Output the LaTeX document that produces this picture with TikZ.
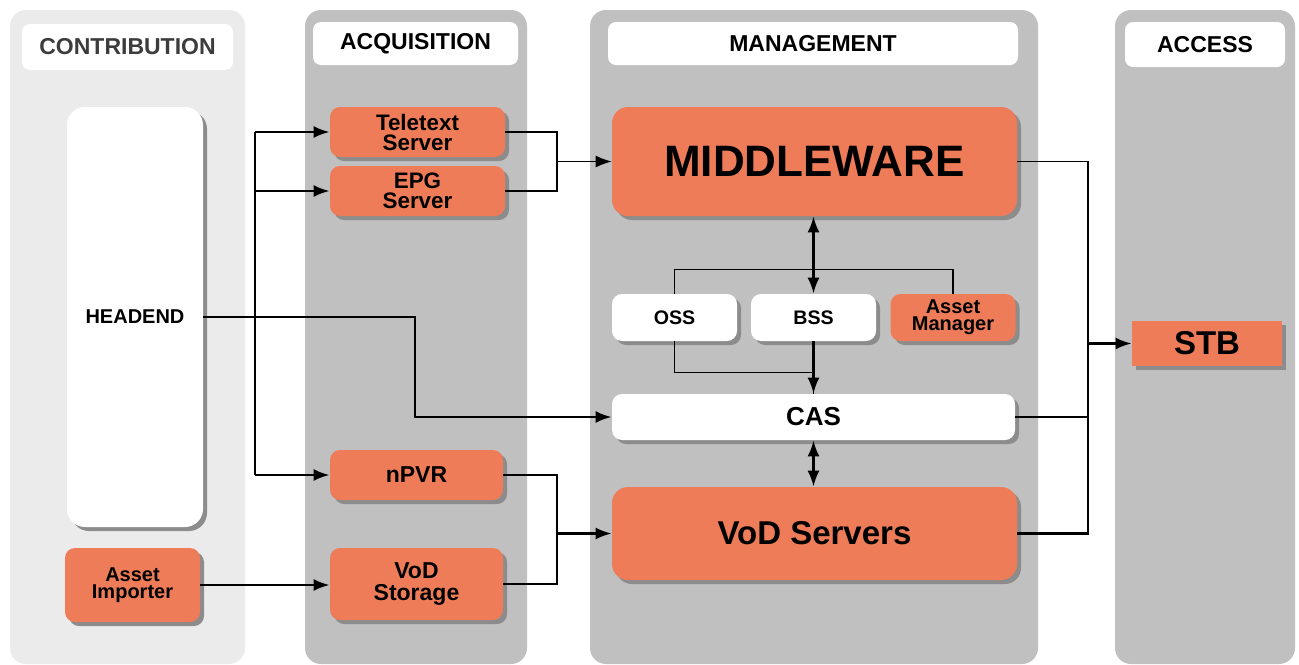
\documentclass[tikz,border=0pt]{standalone}
\usepackage{fontspec}
\setmainfont{Liberation Sans}
\usetikzlibrary{arrows.meta}
\usetikzlibrary{shadows}
\definecolor{iptvorange}{RGB}{239,124,89}
\definecolor{lanelight}{RGB}{235,235,235}
\definecolor{lanegray}{RGB}{192,192,192}
\definecolor{shadegray}{RGB}{140,140,140}
\definecolor{headtext}{RGB}{60,60,60}
\newcommand{\fsz}[2]{\fontsize{#1}{#2}\selectfont}
\newcommand{\lane}[3]{ \fill[#3, rounded corners=8pt] ( #1 , 10 ) rectangle ( #2 , 664 );}
\tikzset{
  unit/.style={rounded corners=5pt, inner sep=0pt, align=center, font=\bfseries,
    drop shadow={shadow xshift=2pt, shadow yshift=-2pt, fill=shadegray, opacity=1}},
  orangebox/.style={unit, fill=iptvorange},
  whitebox/.style={unit, fill=white},
  lanehead/.style={fill=white, rounded corners=4pt, inner sep=0pt, font=\bfseries\fsz{11.5}{13}},
  link/.style={draw=black, line width=1.2pt},
  thinlink/.style={draw=black, line width=0.6pt},
  arrowto/.style={-{Latex[length=8pt,width=6pt]}},
  biarrow/.style={{Latex[length=8pt,width=6pt]}-{Latex[length=8pt,width=6pt]}}
}

\begin{document}
\begin{tikzpicture}[x=0.5pt, y=-0.5pt]
\useasboundingbox (0,0) rectangle (1299,664);
%
\lane{10}{245}{lanelight}
\lane{305}{527}{lanegray}
\lane{590}{1038}{lanegray}
\lane{1115}{1295}{lanegray}

\node[lanehead, minimum width=105.5pt, minimum height=23pt, text=headtext] (contrib) at (127.5,47) {CONTRIBUTION};
\node[lanehead, minimum width=102.5pt, minimum height=21.5pt] (acquis) at (415.5,43.5) {ACQUISITION};
\node[lanehead, minimum width=205pt, minimum height=21.5pt] (manage) at (813,43.5) {MANAGEMENT};
\node[lanehead, minimum width=80pt, minimum height=22.5pt] (access) at (1205,44.5) {ACCESS};
%
\node[whitebox, rounded corners=9pt, minimum width=68pt, minimum height=210pt, font=\bfseries\fsz{10}{12}] (headend) at (135,317) {HEADEND};
\node[orangebox, minimum width=67.5pt, minimum height=37pt, font=\bfseries\fsz{10}{8.5}] (importer) at (132.5,585) {Asset\\Importer};

\node[orangebox, minimum width=87.5pt, minimum height=25pt, font=\bfseries\fsz{11.2}{10}] (teletext) at (417.5,132) {Teletext\\Server};
\node[orangebox, minimum width=87.5pt, minimum height=25pt, font=\bfseries\fsz{11.2}{10}] (epg) at (417.5,191) {EPG\\Server};
\node[orangebox, minimum width=86.5pt, minimum height=25pt, font=\bfseries\fsz{11.5}{13}] (npvr) at (416.5,475) {nPVR};
\node[orangebox, minimum width=86.5pt, minimum height=36pt, font=\bfseries\fsz{11.5}{11}] (storage) at (416.5,584) {VoD\\Storage};
%
\node[orangebox, rounded corners=8pt, minimum width=202.5pt, minimum height=54.5pt, font=\bfseries\fsz{22}{24}] (middleware) at (814.5,161.5) {MIDDLEWARE};
\node[whitebox, minimum width=62.5pt, minimum height=23.5pt, font=\bfseries\fsz{9.8}{11}] (oss) at (674.5,317.5) {OSS};
\node[whitebox, minimum width=62.5pt, minimum height=23.5pt, font=\bfseries\fsz{9.8}{11}] (bss) at (813.5,317.5) {BSS};
\node[orangebox, minimum width=62.5pt, minimum height=23.5pt, font=\bfseries\fsz{10}{8.5}] (assetmgr) at (953,317.5) {Asset\\Manager};
\node[whitebox, minimum width=201.5pt, minimum height=23pt, font=\bfseries\fsz{13}{15}] (cas) at (813.5,417) {CAS};
\node[orangebox, rounded corners=8pt, minimum width=202.5pt, minimum height=46.5pt, font=\bfseries\fsz{16.5}{18}] (vodsrv) at (814.5,533.5) {VoD Servers};

\node[orangebox, rounded corners=0pt, minimum width=75pt, minimum height=22.5pt, font=\bfseries\fsz{16.5}{18}] (stb) at (1207,343.5) {STB};
%
\coordinate (busL) at (255,317);
\coordinate (bendH) at (415,317);
\coordinate (joinT) at (557,161.5);
\coordinate (joinV) at (557,533.5);
\coordinate (busR) at (1088,343.5);

\draw[link] (busL |- teletext.west) -- (busL |- npvr.west);
\draw[link, arrowto] (headend.east) -- (bendH) |- (cas.west);
\draw[link, arrowto] (busL |- teletext.west) -- (teletext.west);
\draw[link, arrowto] (busL |- epg.west) -- (epg.west);
\draw[link, arrowto] (busL |- npvr.west) -- (npvr.west);
\draw[link, arrowto] (importer.east) -- (importer.east -| storage.west);

\draw[thinlink] (teletext.east) -| (joinT);
\draw[thinlink] (epg.east) -| (joinT);
\draw[thinlink, arrowto] (joinT) -- (middleware.west);
\draw[link] (npvr.east) -| (joinV);
\draw[link] (storage.east) -| (joinV);
\draw[link, arrowto] (joinV) -- (vodsrv.west);
%
\draw[link, biarrow] (bss.north |- middleware.south) -- (bss.north);
\draw[thinlink] (oss.north) -- ++(0,-24) -| (assetmgr.north);
\draw[thinlink] (oss.south) -- ++(0,31) -| (bss.south |- cas.north);
\draw[link, arrowto] (bss.south) -- (bss.south |- cas.north);
\draw[link, biarrow] (cas.south) -- (cas.south |- vodsrv.north);

\draw[thinlink] (middleware.east) -| (busR);
\draw[link] (cas.east) -| (busR);
\draw[link] (vodsrv.east) -| (busR);
\draw[link, arrowto] (busR) -- (stb.west);

\end{tikzpicture}
\end{document}
